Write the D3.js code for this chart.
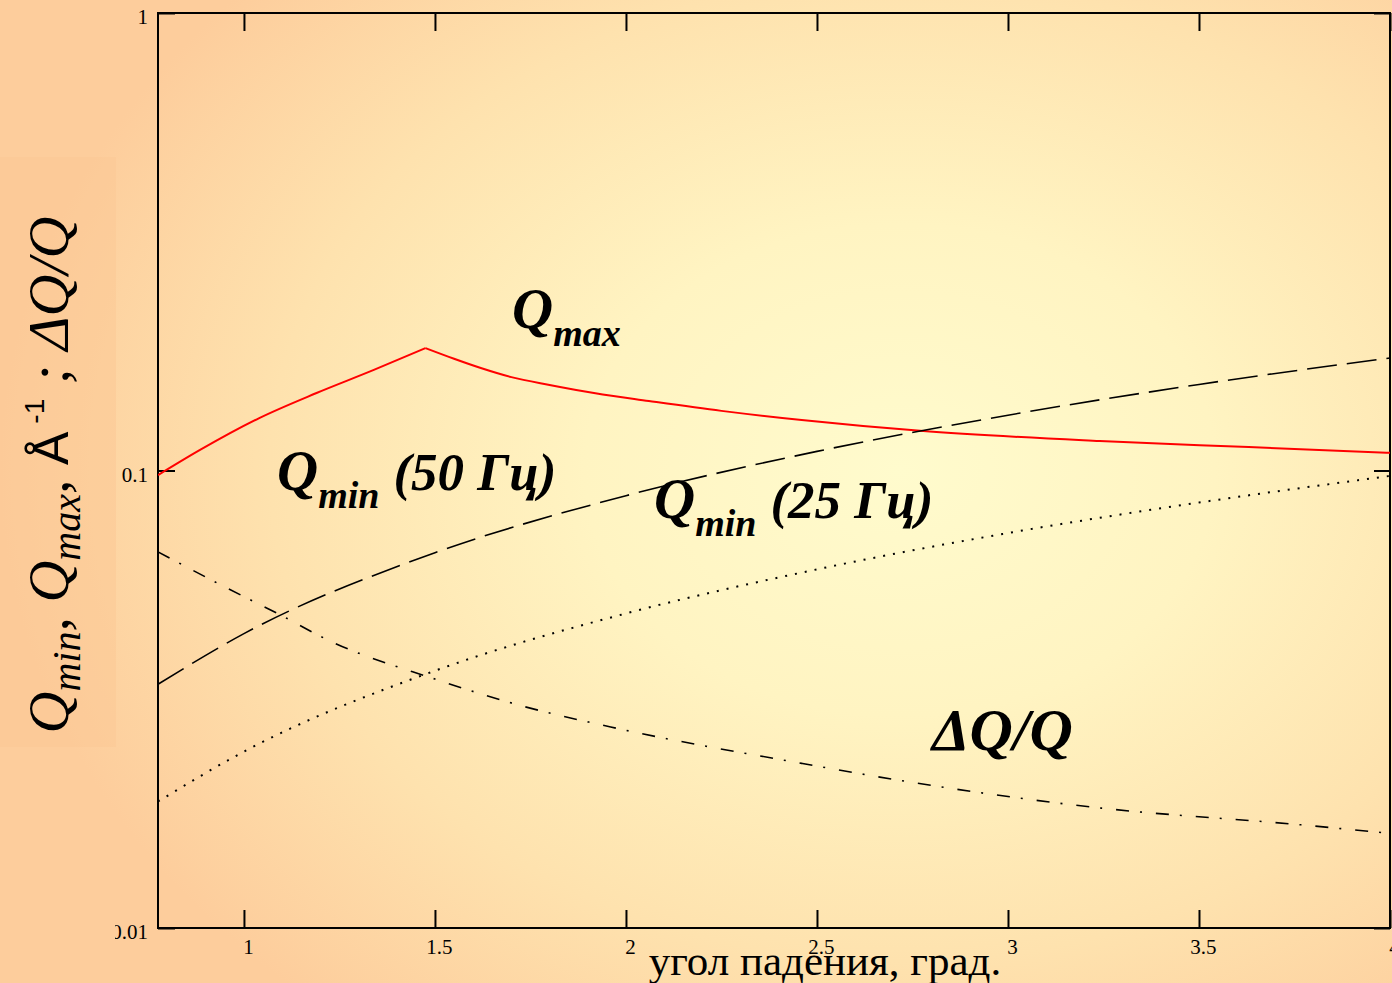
<!DOCTYPE html>
<html>
<head>
<meta charset="utf-8">
<script src="https://cdn.jsdelivr.net/npm/d3@7.9.0/dist/d3.min.js"></script>
<style>
  body { margin: 0; overflow: hidden; }
  svg { display: block; }
</style>
</head>
<body>
<svg id="chart"></svg>
<script>
// angles (deg) and read-off values
const qMinAngles = [0.775, 1, 1.5, 2, 2.5, 3, 3.5, 4];
const qMin50 = [0.0341, 0.0440, 0.0661, 0.0881, 0.1101, 0.1321, 0.1542, 0.1762];
const qMin25 = [0.0189, 0.0243, 0.0365, 0.0487, 0.0608, 0.0730, 0.0851, 0.0973];

const qMaxAngles = [0.775, 0.885, 1.04, 1.19, 1.34, 1.475, 1.55, 1.62, 1.7, 1.8, 1.92, 2.06, 2.25, 2.46, 2.77, 3.24, 3.63, 4];
const qMax = [0.0977, 0.1109, 0.1302, 0.1477, 0.1659, 0.1852, 0.1755, 0.1675, 0.1600, 0.1538, 0.1475, 0.1419, 0.1350, 0.1289, 0.1221, 0.1160, 0.1125, 0.1093];

const dqAngles = [0.775, 0.94, 1.1, 1.22, 1.5, 1.72, 1.96, 2.46, 2.72, 3.24, 3.77, 4];
const dqOverQ = [0.0664, 0.0562, 0.0481, 0.0426, 0.0350, 0.0307, 0.0275, 0.0229, 0.0210, 0.0183, 0.0168, 0.0161];

const xTicks = [1, 1.5, 2, 2.5, 3, 3.5, 4];
const yTicks = [0.01, 0.1, 1];

const W = 1392, H = 983;
const plot = { left: 158, right: 1390, top: 13, bottom: 928 };

const svg = d3.select("#chart").attr("width", W).attr("height", H);
const defs = svg.append("defs");

// background radial gradient (peach edges, pale yellow centre)
const grad = defs.append("radialGradient")
    .attr("id", "bg")
    .attr("gradientUnits", "userSpaceOnUse")
    .attr("cx", 900).attr("cy", 470).attr("r", 900)
    .attr("gradientTransform", "translate(900,470) scale(1,0.78) translate(-900,-470)");
grad.append("stop").attr("offset", 0).attr("stop-color", "#fffbcd");
grad.append("stop").attr("offset", 0.35).attr("stop-color", "#fff4c2");
grad.append("stop").attr("offset", 0.7).attr("stop-color", "#fee2ae");
grad.append("stop").attr("offset", 1).attr("stop-color", "#fdcd9c");

svg.append("rect").attr("width", W).attr("height", H).attr("fill", "url(#bg)");

// box behind the y-axis title
svg.append("rect")
    .attr("x", 0).attr("y", 157).attr("width", 116).attr("height", 590)
    .attr("fill", "#fcc896").attr("opacity", 0.55);

const x = d3.scaleLinear().domain([0.775, 4]).range([plot.left, plot.right]);
const y = d3.scaleLog().domain([0.01, 1]).range([plot.bottom, plot.top]);

defs.append("clipPath").attr("id", "plotClip")
    .append("rect")
    .attr("x", plot.left).attr("y", plot.top)
    .attr("width", plot.right - plot.left).attr("height", plot.bottom - plot.top);
defs.append("clipPath").attr("id", "labelClip")
    .append("rect").attr("x", 115).attr("y", 0).attr("width", W).attr("height", H);

const tickFont = "'Liberation Serif', 'Times New Roman', serif";

// axes: ticks point inward
const xAxis = svg.append("g")
    .attr("transform", `translate(0,${plot.bottom})`)
    .call(d3.axisBottom(x).tickValues(xTicks).tickSize(-18).tickPadding(11).tickFormat(d3.format("")));
xAxis.selectAll("text").attr("dx", 4);

svg.append("g")
    .attr("transform", `translate(0,${plot.top})`)
    .call(d3.axisTop(x).tickValues(xTicks).tickSize(-18).tickFormat(""));

const yAxis = svg.append("g")
    .attr("clip-path", "url(#labelClip)")
    .append("g")
    .attr("transform", `translate(${plot.left},0)`)
    .call(d3.axisLeft(y).tickValues(yTicks).tickSize(-17).tickPadding(10).tickFormat(d3.format("")));
yAxis.selectAll("text").attr("dy", "0.5em");

svg.append("g")
    .attr("transform", `translate(${plot.right},0)`)
    .call(d3.axisRight(y).tickValues(yTicks).tickSize(-16).tickFormat(""));

svg.selectAll(".domain").remove();
svg.selectAll(".tick line").attr("stroke", "#000").attr("stroke-width", 2);
svg.selectAll(".tick text")
    .attr("font-family", tickFont).attr("font-size", 21).attr("fill", "#000");

// frame
svg.append("rect")
    .attr("x", plot.left).attr("y", plot.top)
    .attr("width", plot.right - plot.left).attr("height", plot.bottom - plot.top)
    .attr("fill", "none").attr("stroke", "#000").attr("stroke-width", 2);

// curves; Qmax is drawn as two smooth branches that meet at its sharp peak
const qMaxPts = d3.zip(qMaxAngles, qMax);
const peak = d3.maxIndex(qMax);
const series = [
  { pts: qMaxPts.slice(0, peak + 1), color: "#ff0000", width: 2, dash: null },
  { pts: qMaxPts.slice(peak), color: "#ff0000", width: 2, dash: null },
  { pts: d3.zip(qMinAngles, qMin50), color: "#000", width: 1.6, dash: "30,10" },
  { pts: d3.zip(qMinAngles, qMin25), color: "#000", width: 2, dash: "2,8" },
  { pts: d3.zip(dqAngles, dqOverQ), color: "#000", width: 1.6, dash: "13,11,2,14" }
];

const line = d3.line()
    .x(d => x(d[0]))
    .y(d => y(d[1]))
    .curve(d3.curveMonotoneX);

const curves = svg.append("g").attr("clip-path", "url(#plotClip)");
series.forEach(s => {
  curves.append("path")
      .datum(s.pts)
      .attr("d", line)
      .attr("fill", "none")
      .attr("stroke", s.color)
      .attr("stroke-width", s.width)
      .attr("stroke-linejoin", "miter")
      .attr("stroke-dasharray", s.dash);
});

// curve labels (bold italic)
const labelFont = "'Liberation Serif', 'Times New Roman', serif";
function curveLabel(px, py, sub, rest) {
  const t = svg.append("text")
      .attr("x", px).attr("y", py)
      .attr("font-family", labelFont)
      .attr("font-weight", "bold").attr("font-style", "italic")
      .attr("font-size", 57).attr("fill", "#000");
  t.append("tspan").text("Q");
  t.append("tspan").attr("font-size", 38).attr("dy", 18).text(sub);
  if (rest) t.append("tspan").attr("dy", -18).attr("dx", 14).attr("font-size", 53).text(rest);
}
curveLabel(512, 328, "max", null);
curveLabel(277, 490, "min", "(50 Гц)");
curveLabel(654, 518, "min", "(25 Гц)");

svg.append("text")
    .attr("x", 932).attr("y", 750)
    .attr("font-family", labelFont)
    .attr("font-weight", "bold").attr("font-style", "italic")
    .attr("font-size", 60).attr("fill", "#000")
    .text("ΔQ/Q");

// x-axis title
svg.append("text")
    .attr("x", 825).attr("y", 975)
    .attr("text-anchor", "middle")
    .attr("font-family", tickFont)
    .attr("font-size", 43).attr("fill", "#000")
    .text("угол падения, град.");

// y-axis title (rotated)
const yt = svg.append("text")
    .attr("transform", "translate(68,475) rotate(-90)")
    .attr("text-anchor", "middle")
    .attr("font-family", labelFont)
    .attr("font-style", "italic")
    .attr("font-size", 58).attr("fill", "#000");
yt.append("tspan").text("Q");
yt.append("tspan").attr("font-size", 40).attr("dy", 12).text("min");
yt.append("tspan").attr("dy", -12).text(", Q");
yt.append("tspan").attr("font-size", 40).attr("dy", 12).text("max");
yt.append("tspan").attr("dy", -12).text(", ");
yt.append("tspan").attr("font-family", "'Liberation Sans', Arial, sans-serif").attr("font-style", "normal").attr("font-size", 50).text("Å");
yt.append("tspan").attr("font-family", "'Liberation Sans', Arial, sans-serif").attr("font-style", "normal").attr("font-size", 28).attr("dy", -24).attr("dx", 8).text("-1");
yt.append("tspan").attr("dy", 24).text(" ; ΔQ/Q");
</script>
</body>
</html>
